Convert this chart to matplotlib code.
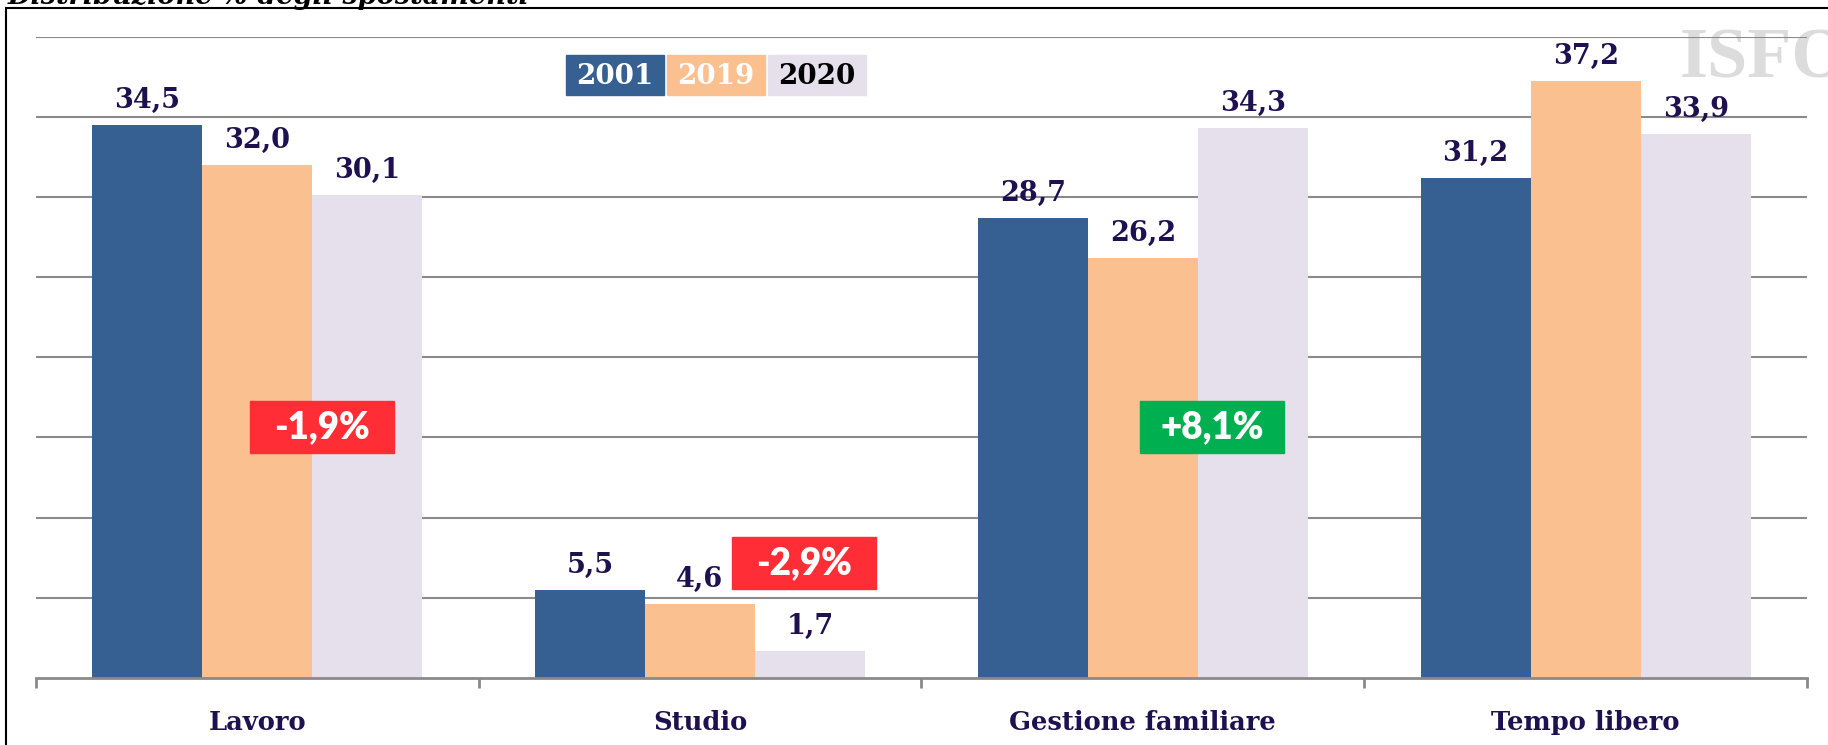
import matplotlib.pyplot as plt
import numpy as np
from matplotlib.patches import Rectangle

categories = ["Lavoro", "Studio", "Gestione familiare", "Tempo libero"]
years = ["2001", "2019", "2020"]
v2001 = [34.5, 5.5, 28.7, 31.2]
v2019 = [32.0, 4.6, 26.2, 37.2]
v2020 = [30.1, 1.7, 34.3, 33.9]
# variazioni 2020 vs 2019 (testo, colore, posizione x, y in dati)
delta_txt = ["-1,9%", "-2,9%", "+8,1%"]
delta_col = ["#ff2d35", "#ff2d35", "#00b050"]
delta_x = [0.147, 1.235, 2.157]
delta_y = [15.65, 7.14, 15.65]

W, H = 1828, 745
colors = ["#366092", "#fac090", "#e5e0ec"]
navy = "#1f1050"

fig = plt.figure(figsize=(W / 100, H / 100), dpi=100)
ax = fig.add_axes([35.7 / W, 1 - 678 / H, (1807 - 35.7) / W, (678 - 36.5) / H])
ax.patch.set_visible(False)

x = np.arange(len(categories))
bw = 0.2485
for i, (vals, c) in enumerate(zip([v2001, v2019, v2020], colors)):
    bars = ax.bar(x + (i - 1) * bw, vals, bw, color=c, zorder=2)
    for b, v in zip(bars, vals):
        ax.annotate(f"{v:.1f}".replace(".", ","), (b.get_x() + bw / 2, v),
                    xytext=(0, 8), textcoords="offset points", ha="center", va="bottom",
                    fontsize=19.5, fontweight="bold", family="DejaVu Serif", color=navy)

ax.set_xlim(-0.5, 3.5)
ax.set_ylim(0, 40)
ax.set_yticks(range(5, 45, 5))
ax.yaxis.grid(True, color="#8a8a8a", lw=1.5)
ax.tick_params(axis="y", length=0, labelleft=False)
for s in ["left", "right", "top"]:
    ax.spines[s].set_visible(False)
ax.spines["bottom"].set_color("#8a8a8a")
ax.spines["bottom"].set_linewidth(2)
ax.set_xticks(x)
ax.set_xticklabels(categories, fontsize=18.5, fontweight="bold", family="DejaVu Serif", color=navy)
ax.set_xticks(np.arange(-0.5, 4, 1), minor=True)
ax.tick_params(axis="x", which="major", length=0, pad=23)
ax.tick_params(axis="x", which="minor", length=7, width=2, color="#8a8a8a")

# riquadri variazione
bxw, bxh = 144 / 442.8, 52 / 16.04
for t, c, px, py in zip(delta_txt, delta_col, delta_x, delta_y):
    ax.add_patch(Rectangle((px - bxw / 2, py - bxh / 2), bxw, bxh, color=c, zorder=3, clip_on=False))
    ax.text(px, py, t, ha="center", va="center", color="white", fontsize=26.5,
            fontweight="heavy", family="Lato", zorder=4)

# legenda
lx = [566, 667, 768]
for yr, c, l, tc in zip(years, colors, lx, ["white", "white", "black"]):
    fig.add_artist(Rectangle((l / W, 1 - 95 / H), 98 / W, 40 / H, color=c,
                             transform=fig.transFigure))
    fig.text((l + 49) / W, 1 - 76 / H, yr, ha="center", va="center", color=tc,
             fontsize=20, fontweight="bold", family="DejaVu Serif")

# cornice, titolo tagliato, filigrana
fig.add_artist(Rectangle((6 / W, -0.1), 2, 1 - 8 / H + 0.1, fill=False, lw=1.5,
                         ec="black", transform=fig.transFigure))
fig.text(8 / W, 1 - 4 / H, "Distribuzione % degli spostamenti", va="baseline",
         fontsize=19.5, fontweight="bold", fontstyle="italic", family="DejaVu Serif")
fig.text(1680 / W, 1 - 77 / H, "ISFORT", va="baseline", fontsize=52, fontweight="bold",
         family="Liberation Serif", color="#dcdcdc", zorder=-1)

fig.savefig("out.png", dpi=100)
